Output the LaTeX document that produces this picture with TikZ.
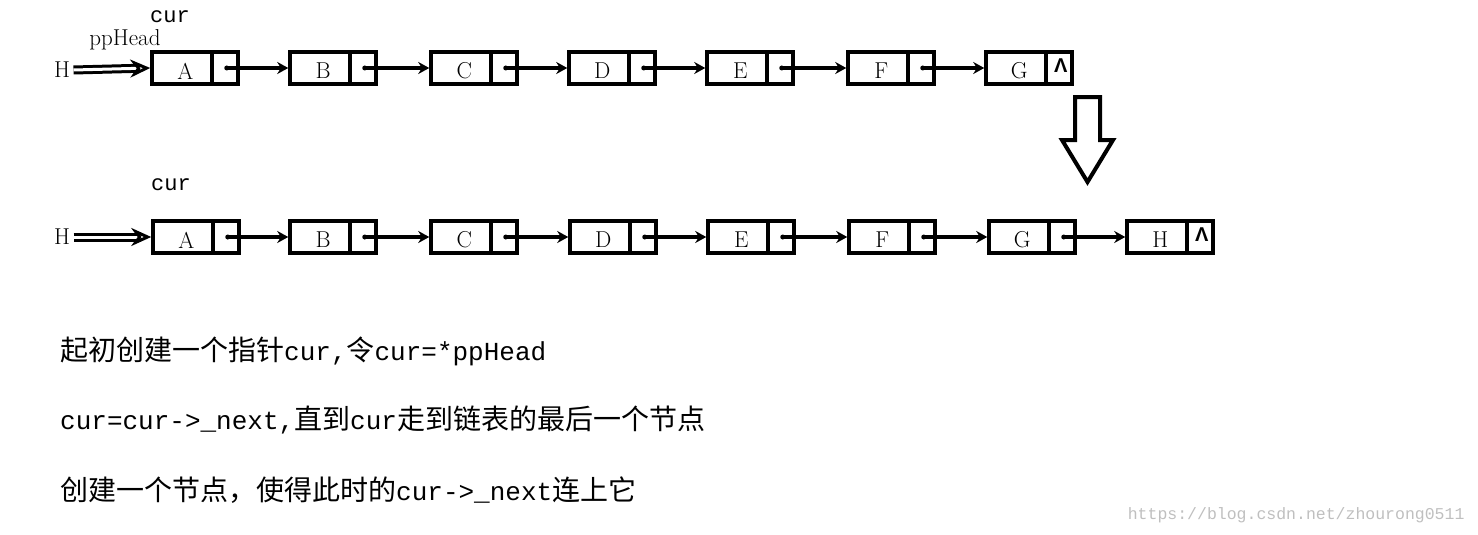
\documentclass[tikz,border=0pt]{standalone}
\usepackage{fontspec}
\usepackage{amsmath,bm}
\newfontfamily\cjk{Noto Sans CJK SC}
\newfontfamily\mono{Liberation Mono}
\newfontfamily\heavy{Liberation Sans}
\usetikzlibrary{arrows.meta,calc}
\tikzset{
  cell/.style={draw,line width=3.5pt,minimum width=86pt,minimum height=32pt,inner sep=0pt,
    path picture={\draw[line width=3.5pt] ([xshift=-26pt]path picture bounding box.north east) -- ([xshift=-26pt]path picture bounding box.south east);}},
  link/.style={line width=3.5pt,-{Stealth[length=11pt,width=12pt]}},
  lbl/.style={font=\fontsize{23}{25}\selectfont},
  nul/.style={font=\heavy\bfseries\fontsize{20}{22}\selectfont},
  txt/.style={anchor=west,font=\cjk\fontsize{28}{30}\selectfont,inner sep=0pt}
}
\newcommand\lat[1]{{\mono\fontsize{26}{30}\selectfont #1}}
\begin{document}
\begin{tikzpicture}[x=1pt,y=-1pt]
  \useasboundingbox (0,0) rectangle (1478,535);
  % top list
  \foreach \n/\x in {A/195,B/333,C/474,D/612,E/750,F/891,G/1029}{
    \node[cell] (t\n) at (\x,68) {};
    \node[lbl] (tl\n) at ([xshift=35pt,yshift=-3pt]t\n.west) {\n};
    \coordinate (tp\n) at ([xshift=-13pt]t\n.east);
  }
  \foreach \a/\b in {A/B,B/C,C/D,D/E,E/F,F/G}{
    \fill (tp\a) circle (2.5pt);
    \draw[link] (tp\a) -- (t\b.west);
  }
  \node[nul] (tn) at ([yshift=2pt]tpG) {Λ};
  \node[lbl] (tH) at (62,70) {H};
  \node[font=\mono\fontsize{22}{24}\selectfont] (tcur) at (170,17) {cur};
  \node[lbl] (tpp) at (125,40) {ppHead};
  \draw[line width=3pt,double=white,double distance=3pt,-{Stealth[open,length=20pt,width=18pt]}] (tH.east) -- (tA.west);
  % bottom list
  \foreach \n/\x in {A/196,B/333,C/474,D/613,E/751,F/892,G/1032,H/1170}{
    \node[cell] (b\n) at (\x,237) {};
    \node[lbl] (bl\n) at ([xshift=35pt,yshift=-3pt]b\n.west) {\n};
    \coordinate (bp\n) at ([xshift=-13pt]b\n.east);
  }
  \foreach \a/\b in {A/B,B/C,C/D,D/E,E/F,F/G,G/H}{
    \fill (bp\a) circle (2.5pt);
    \draw[link] (bp\a) -- (b\b.west);
  }
  \node[nul] (bn) at ([yshift=2pt]bpH) {Λ};
  \node[lbl] (bH) at (62,237) {H};
  \node[font=\mono\fontsize{22}{24}\selectfont] (bcur) at (171,185) {cur};
  \draw[line width=3pt,double=white,double distance=3pt,-{Stealth[open,length=20pt,width=18pt]}] (bH.east) -- (bA.west);
  % big down arrow
  \draw[line width=4pt,line join=miter] (1075,97) -- (1100,97) -- (1100,140) -- (1113,140)
    -- (1087.5,182) -- (1062,140) -- (1075,140) -- cycle;
  % notes
  \node[txt] (n1) at (60,351) {起初创建一个指针\lat{cur,}令\lat{cur=*ppHead}};
  \node[txt] (n2) at (60,420) {\lat{cur=cur->\_next,}直到\lat{cur}走到链表的最后一个节点};
  \node[txt] (n3) at (60,490) {创建一个节点，使得此时的\lat{cur->\_next}连上它};
  \node[anchor=east,text=gray!50,font=\mono\fontsize{16.5}{18}\selectfont] (wm) at (1468,515) {https://blog.csdn.net/zhourong0511};
\end{tikzpicture}
\end{document}
